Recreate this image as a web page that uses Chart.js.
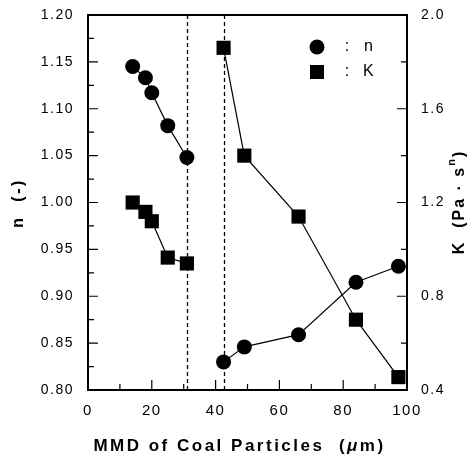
<!DOCTYPE html>
<html><head><meta charset="utf-8">
<script src="https://cdn.jsdelivr.net/npm/chart.js@4/dist/chart.umd.min.js"></script>
<style>html,body{margin:0;padding:0;background:#fff}#wrap{width:473px;height:458px}</style>
</head><body><div id="wrap"><canvas id="c" width="473" height="458"></canvas></div>
<script>
// ---- data ----
const mmdFine   = [14, 18, 20, 25, 31];
const nFine     = [1.145, 1.133, 1.117, 1.082, 1.048];
const kFine     = [1.20, 1.16, 1.12, 0.965, 0.94];
const mmdCoarse = [42.5, 49, 66, 84, 97.3];
const nCoarse   = [0.830, 0.846, 0.859, 0.915, 0.932];
const kCoarse   = [1.86, 1.40, 1.14, 0.70, 0.455];
const dividerX  = [31, 42.5];
const xRange = [0, 100], xStep = 20, xMinor = 10;
const nRange = [0.80, 1.20], nStep = 0.05, nMinor = 0.025;
const kRange = [0.4, 2.0], kStep = 0.4, kMinor = 0.2;
const seriesNames = ['n', 'K'];

const FONT = '"Liberation Sans", Arial, Helvetica, sans-serif';
const pts = (xs, ys) => xs.map((x, i) => ({x, y: ys[i]}));

const lineStyle = {borderColor:'#000', backgroundColor:'#000', borderWidth:1.2,
  pointBorderColor:'#000', pointBackgroundColor:'#000', pointBorderWidth:0, tension:0, fill:false, clip:false};

const overlay = {
  id:'overlay',
  beforeDraw(chart){
    chart.ctx.letterSpacing = '1.5px';
  },
  afterDraw(chart){
    const {ctx, chartArea:a, scales} = chart;
    ctx.save();
    ctx.letterSpacing = '0px';
    // dashed dividers
    ctx.strokeStyle = '#000'; ctx.lineWidth = 1.3; ctx.setLineDash([4,3]);
    dividerX.forEach(v => {
      const px = Math.round(scales.x.getPixelForValue(v)) + 0.5;
      ctx.beginPath(); ctx.moveTo(px, a.top); ctx.lineTo(px, a.bottom); ctx.stroke();
    });
    ctx.setLineDash([]);
    // inward ticks
    ctx.lineWidth = 1.2;
    const ticks = (scale, min, max, minor, major, draw) => {
      const n = Math.round((max - min) / minor);
      for (let i = 1; i < n; i++) {
        const v = min + i * minor;
        const isMajor = Math.abs(Math.round(v / major) * major - v) < 1e-9;
        draw(scale.getPixelForValue(v), isMajor ? 10 : 6);
      }
    };
    ctx.beginPath();
    ticks(scales.x, xRange[0], xRange[1], xMinor, xStep, (p, L) => { ctx.moveTo(p, a.bottom); ctx.lineTo(p, a.bottom - L); });
    ticks(scales.yn, nRange[0], nRange[1], nMinor, nStep, (p, L) => { ctx.moveTo(a.left, p); ctx.lineTo(a.left + L, p); });
    ticks(scales.yk, kRange[0], kRange[1], kMinor, kStep, (p, L) => { ctx.moveTo(a.right, p); ctx.lineTo(a.right - L, p); });
    ctx.stroke();
    // frame
    ctx.lineWidth = 2;
    ctx.strokeRect(a.left, a.top, a.right - a.left, a.bottom - a.top);

    // legend
    ctx.fillStyle = '#000';
    ctx.beginPath(); ctx.arc(317, 47, 7.5, 0, Math.PI * 2); ctx.fill();
    ctx.fillRect(310, 65, 14, 14);
    ctx.font = '16px ' + FONT; ctx.textBaseline = 'middle'; ctx.textAlign = 'center';
    ctx.fillText(':', 347, 47); ctx.fillText(':', 347, 72);
    ctx.textAlign = 'left';
    ctx.fillText(seriesNames[0], 364, 47); ctx.fillText(seriesNames[1], 363, 72);

    // x title
    ctx.letterSpacing = '2.5px';
    const bold = 'bold 17px ' + FONT;
    const parts = [['MMD of Coal Particles  (', bold], ['\u03bc', 'italic bold 17px ' + FONT], ['m)', bold]];
    let tw = 0; parts.forEach(([t, f]) => { ctx.font = f; tw += ctx.measureText(t).width; });
    let x0 = (a.left + a.right) / 2 - tw / 2 - 8;
    ctx.textBaseline = 'alphabetic';
    parts.forEach(([t, f]) => { ctx.font = f; ctx.fillText(t, x0, 451); x0 += ctx.measureText(t).width; });

    // left title
    ctx.letterSpacing = '2.5px';
    ctx.save();
    ctx.translate(23, 203); ctx.rotate(-Math.PI / 2);
    ctx.font = 'bold 16px ' + FONT; ctx.textAlign = 'center';
    ctx.fillText('n  (-)', 0, 0);
    ctx.restore();

    // right title
    ctx.letterSpacing = '2px';
    ctx.save();
    ctx.translate(464, 202); ctx.rotate(-Math.PI / 2);
    const f1 = 'bold 16px ' + FONT, f2 = 'bold 11px ' + FONT;
    const rp = [['K  (Pa \u00b7 s', f1, 0], ['n', f2, -9], [')', f1, 0]];
    let rw = 0; rp.forEach(([t, f]) => { ctx.font = f; rw += ctx.measureText(t).width; });
    let rx = -rw / 2;
    rp.forEach(([t, f, dy]) => { ctx.font = f; ctx.fillText(t, rx, dy); rx += ctx.measureText(t).width; });
    ctx.restore();

    ctx.restore();
  }
};

new Chart(document.getElementById('c'), {
  type:'line',
  data:{datasets:[
    {...lineStyle, label:'n', data:pts(mmdFine, nFine), yAxisID:'yn', pointStyle:'circle', pointRadius:7.5},
    {...lineStyle, label:'n', data:pts(mmdCoarse, nCoarse), yAxisID:'yn', pointStyle:'circle', pointRadius:7.5},
    {...lineStyle, label:'K', data:pts(mmdFine, kFine), yAxisID:'yk', pointStyle:'rect', pointRadius:10},
    {...lineStyle, label:'K', data:pts(mmdCoarse, kCoarse), yAxisID:'yk', pointStyle:'rect', pointRadius:10}
  ]},
  options:{
    responsive:false, animation:false, devicePixelRatio:1,
    layout:{padding:{top:15, left:0, right:0, bottom:0}},
    plugins:{legend:{display:false}, tooltip:{enabled:false}},
    scales:{
      x:{type:'linear', position:'bottom', min:xRange[0], max:xRange[1],
         ticks:{stepSize:xStep, color:'#000', font:{family:FONT, size:15}, padding:4, maxRotation:0},
         grid:{display:false}, border:{display:false},
         afterFit(s){ s.height = 68; }},
      yn:{type:'linear', position:'left', min:nRange[0], max:nRange[1],
         ticks:{stepSize:nStep, color:'#000', font:{family:FONT, size:14}, padding:6, callback:v=>v.toFixed(2)},
         grid:{display:false}, border:{display:false},
         afterFit(s){ s.width = 88; }},
      yk:{type:'linear', position:'right', min:kRange[0], max:kRange[1],
         ticks:{stepSize:kStep, color:'#000', font:{family:FONT, size:14}, padding:6, callback:v=>v.toFixed(1)},
         grid:{display:false}, border:{display:false},
         afterFit(s){ s.width = 66; }}
    }
  },
  plugins:[overlay]
});
</script></body></html>
